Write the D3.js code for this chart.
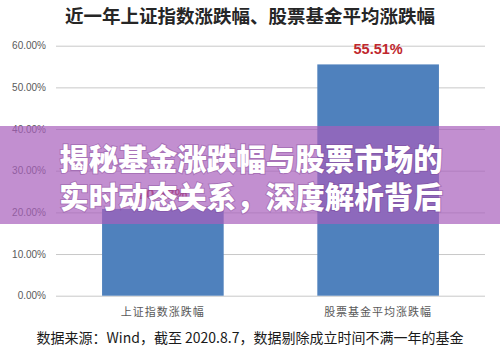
<!DOCTYPE html>
<html><head><meta charset="utf-8">
<script src="https://cdn.jsdelivr.net/npm/d3@7/dist/d3.min.js"></script>
<style>
html,body{margin:0;padding:0;background:#fff;}
svg{display:block;}
</style></head>
<body><svg id="c" width="500" height="352"></svg>
<script>
const title = "近一年上证指数涨跌幅、股票基金平均涨跌幅";
const categories = ["上证指数涨跌幅", "股票基金平均涨跌幅"];
const values = [20.83, 55.51];
const yTicks = [0, 10, 20, 30, 40, 50, 60];
const source = "数据来源：Wind，截至 2020.8.7，数据剔除成立时间不满一年的基金";
const overlayLines = ["揭秘基金涨跌幅与股票市场的", "实时动态关系，深度解析背后"];

(function () {
const svg = d3.select("#c");
const font = "'Noto Sans CJK SC', 'Noto Sans', sans-serif";
const pl = 56, pr = 485, pt = 45.7, pb = 295.7;

const y = d3.scaleLinear().domain([0, 60]).range([pb, pt]);
const x = d3.scaleBand().domain(categories).range([pl, pr]).paddingInner(0.435).paddingOuter(0.214);

svg.append("text").attr("x", 250).attr("y", 23).attr("text-anchor", "middle")
  .attr("font-family", font).attr("font-size", 18.5).attr("font-weight", 600).attr("fill", "#262626").text(title);

const yAxis = d3.axisLeft(y).tickValues(yTicks).tickSize(-(pr - pl)).tickPadding(10)
  .tickFormat(d => d.toFixed(2) + "%");
const ga = svg.append("g").attr("transform", `translate(${pl},0)`).call(yAxis);
ga.select(".domain").remove();
ga.selectAll(".tick line").attr("stroke", "#c8c8c8").attr("stroke-width", 1);
ga.selectAll(".tick text").attr("font-family", "'Liberation Sans', Arial, sans-serif").attr("font-size", 10).attr("fill", "#595959");

svg.selectAll("rect.bar").data(values).enter().append("rect").attr("class", "bar")
  .attr("x", (d, i) => x(categories[i])).attr("width", x.bandwidth())
  .attr("y", d => y(d)).attr("height", d => y(0) - y(d)).attr("fill", "#4f81bd");

svg.selectAll("text.val").data(values).enter().append("text").attr("class", "val")
  .attr("x", (d, i) => x(categories[i]) + x.bandwidth() / 2).attr("y", d => y(d) - 10)
  .attr("text-anchor", "middle").attr("font-family", "'Liberation Sans', Arial, sans-serif")
  .attr("font-size", 14.5).attr("font-weight", "bold").attr("fill", "#c0272d").text(d => d.toFixed(2) + "%");

svg.selectAll("text.cat").data(categories).enter().append("text").attr("class", "cat")
  .attr("x", d => x(d) + x.bandwidth() / 2).attr("y", 316).attr("text-anchor", "middle")
  .attr("font-family", font).attr("font-size", 11).attr("fill", "#595959").attr("letter-spacing", 1).text(d => d);

svg.append("text").attr("x", 250).attr("y", 343).attr("text-anchor", "middle")
  .attr("font-family", font).attr("font-size", 14).attr("fill", "#1a1a1a").text(source);

svg.append("rect").attr("x", 0).attr("y", 126).attr("width", 500).attr("height", 98)
  .attr("fill", "rgb(168,95,188)").attr("fill-opacity", 0.7);
svg.selectAll("text.ov").data(overlayLines).enter().append("text").attr("class", "ov")
  .attr("x", 251).attr("y", (d, i) => 170 + i * 38).attr("text-anchor", "middle")
  .attr("font-family", font).attr("font-size", 29.5).attr("font-weight", 900).attr("fill", "#fff")
  .style("paint-order", "stroke").attr("stroke", "rgba(120,60,140,0.35)").attr("stroke-width", 2)
  .text(d => d);
})();
</script></body></html>
